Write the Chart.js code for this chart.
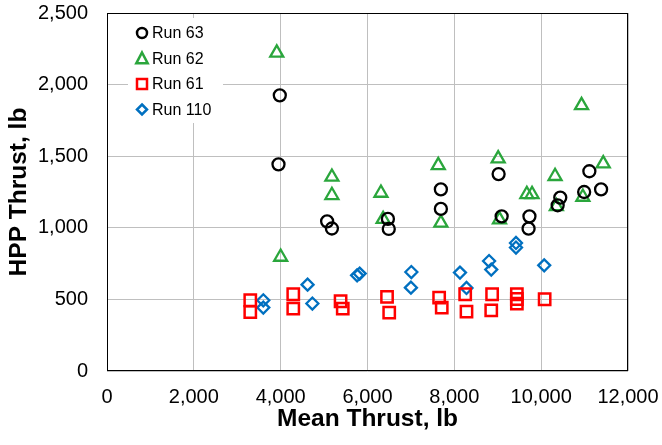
<!DOCTYPE html>
<html>
<head>
<meta charset="utf-8">
<title>HPP Thrust vs Mean Thrust</title>
<script src="https://cdn.jsdelivr.net/npm/chart.js@4.4.1/dist/chart.umd.min.js"></script>
<style>
  html, body { margin: 0; padding: 0; background: #ffffff; }
</style>
</head>
<body>
<canvas id="thrust_chart" width="662" height="445"></canvas>
<script>
// mean thrust (x) and HPP thrust (y), lb, one pair of arrays per run
var run63_x = [3980, 3950, 5070, 5180, 6470, 6490, 7690, 7690, 9020, 9090, 9730, 9710, 10440, 10380, 10990, 11110, 11380];
var run63_y = [1925, 1443, 1045, 995, 1062, 992, 1268, 1132, 1375, 1080, 1080, 994, 1211, 1157, 1250, 1395, 1268];

var run62_x = [3910, 4000, 5180, 5180, 6310, 6360, 7630, 7690, 9010, 9040, 9670, 9790, 10320, 10350, 10930, 10960, 11430];
var run62_y = [2222, 796, 1355, 1227, 1243, 1060, 1436, 1034, 1483, 1057, 1234, 1234, 1360, 1150, 1855, 1215, 1448];

var run61_x = [3300, 3300, 4290, 4290, 5380, 5430, 6450, 6500, 7650, 7710, 8250, 8280, 8870, 8850, 9440, 9440, 9440, 10080];
var run61_y = [494, 412, 536, 436, 487, 436, 517, 408, 513, 443, 536, 415, 536, 424, 536, 503, 471, 501];

var run110_x = [3600, 3600, 4620, 4730, 5760, 5820, 7010, 7000, 8130, 8280, 8800, 8850, 9420, 9420, 10070];
var run110_y = [494, 443, 603, 471, 668, 680, 691, 582, 687, 580, 768, 708, 894, 862, 738];

var x_ticks = [0, 2000, 4000, 6000, 8000, 10000, 12000];
var y_ticks = [0, 500, 1000, 1500, 2000, 2500];

function pairs(xs, ys) {
    var out = [];
    for (var i = 0; i < xs.length; i++) out.push({x: xs[i], y: ys[i]});
    return out;
}

function fmt(v) {
    return Number(v).toLocaleString('en-US');
}

// outline marker used by the legend box
function drawMarker(ctx, style, cx, cy, r) {
    ctx.beginPath();
    if (style === 'circle') {
        ctx.arc(cx, cy, r, 0, Math.PI * 2);
    } else if (style === 'triangle') {
        ctx.moveTo(cx, cy - r);
        ctx.lineTo(cx + r * 0.95, cy + r * 0.8);
        ctx.lineTo(cx - r * 0.95, cy + r * 0.8);
        ctx.closePath();
    } else if (style === 'rect') {
        ctx.rect(cx - r, cy - r, 2 * r, 2 * r);
    } else {
        ctx.moveTo(cx, cy - r);
        ctx.lineTo(cx + r, cy);
        ctx.lineTo(cx, cy + r);
        ctx.lineTo(cx - r, cy);
        ctx.closePath();
    }
    ctx.stroke();
}

var frameAndLegend = {
    id: 'frameAndLegend',
    afterDraw: function(chart) {
        var ctx = chart.ctx, a = chart.chartArea;
        ctx.save();
        ctx.strokeStyle = '#000000';
        ctx.lineWidth = 1;
        var l = Math.round(a.left) + 0.5, t = Math.round(a.top) + 0.5;
        var r = Math.round(a.right) - 0.5, b = Math.round(a.bottom) - 0.5;
        ctx.strokeRect(l, t, r - l, b - t);

        // legend sits inside the plot, top-left
        ctx.fillStyle = '#ffffff';
        ctx.fillRect(a.left + 21, a.top + 5, 95, 105);
        var sizes = [5, 6, 5, 5];
        chart.data.datasets.forEach(function(ds, i) {
            var y = a.top + 20 + i * 25.5;
            ctx.strokeStyle = ds.borderColor;
            ctx.lineWidth = 2.5;
            drawMarker(ctx, ds.pointStyle, a.left + 35, y, sizes[i]);
            ctx.fillStyle = '#000000';
            ctx.font = '16px "Liberation Sans", Arial, sans-serif';
            ctx.textBaseline = 'middle';
            ctx.textAlign = 'left';
            ctx.fillText(ds.label, a.left + 45, y + 1);
        });
        ctx.restore();
    }
};

var tickFont = {family: '"Liberation Sans", Arial, sans-serif', size: 20};
var titleFont = {family: '"Liberation Sans", Arial, sans-serif', size: 24.5, weight: 'bold'};

var thrust_chart = document.getElementById('thrust_chart');
var myChart = new Chart(thrust_chart, {
    type: 'scatter',
    data: {
        datasets: [{
            label: 'Run 63',
            data: pairs(run63_x, run63_y),
            pointStyle: 'circle',
            pointRadius: 6,
            borderColor: '#000000',
            backgroundColor: 'rgba(0,0,0,0)',
            borderWidth: 2.3
        }, {
            label: 'Run 62',
            data: pairs(run62_x, run62_y),
            pointStyle: 'triangle',
            pointRadius: 7.5,
            borderColor: '#2aa63c',
            backgroundColor: 'rgba(0,0,0,0)',
            borderWidth: 2.3
        }, {
            label: 'Run 61',
            data: pairs(run61_x, run61_y),
            pointStyle: 'rect',
            pointRadius: 8,
            borderColor: '#ff0000',
            backgroundColor: 'rgba(0,0,0,0)',
            borderWidth: 2.5
        }, {
            label: 'Run 110',
            data: pairs(run110_x, run110_y),
            pointStyle: 'rectRot',
            pointRadius: 6,
            borderColor: '#0070c0',
            backgroundColor: 'rgba(0,0,0,0)',
            borderWidth: 2.3
        }]
    },
    options: {
        responsive: false,
        animation: false,
        devicePixelRatio: 1,
        layout: {padding: {left: 4, top: 13, right: 34, bottom: 4}},
        plugins: {
            legend: {display: false},
            tooltip: {enabled: false}
        },
        scales: {
            x: {
                type: 'linear',
                min: 0,
                max: 12000,
                afterBuildTicks: function(scale) {
                    scale.ticks = x_ticks.map(function(v) { return {value: v}; });
                },
                afterFit: function(scale) {
                    scale.height = 70;
                    scale.paddingLeft = 0;
                    scale.paddingRight = 0;
                },
                ticks: {
                    font: tickFont,
                    color: '#000000',
                    padding: 14,
                    maxRotation: 0,
                    callback: function(v) { return fmt(v); }
                },
                grid: {color: '#bfbfbf', lineWidth: 1, drawTicks: false},
                border: {display: false},
                title: {
                    display: true,
                    text: 'Mean Thrust, lb',
                    font: titleFont,
                    color: '#000000',
                    padding: {top: 0, bottom: 7}
                }
            },
            y: {
                type: 'linear',
                min: 0,
                max: 2500,
                afterBuildTicks: function(scale) {
                    scale.ticks = y_ticks.map(function(v) { return {value: v}; });
                },
                afterFit: function(scale) {
                    scale.width = 103;
                    scale.paddingTop = 0;
                    scale.paddingBottom = 0;
                },
                ticks: {
                    font: tickFont,
                    color: '#000000',
                    padding: 19,
                    callback: function(v) { return fmt(v); }
                },
                grid: {color: '#bfbfbf', lineWidth: 1, drawTicks: false},
                border: {display: false},
                title: {
                    display: true,
                    text: 'HPP Thrust, lb',
                    font: titleFont,
                    color: '#000000',
                    padding: {top: 1, bottom: 0}
                }
            }
        }
    },
    plugins: [frameAndLegend]
});
</script>
</body>
</html>
